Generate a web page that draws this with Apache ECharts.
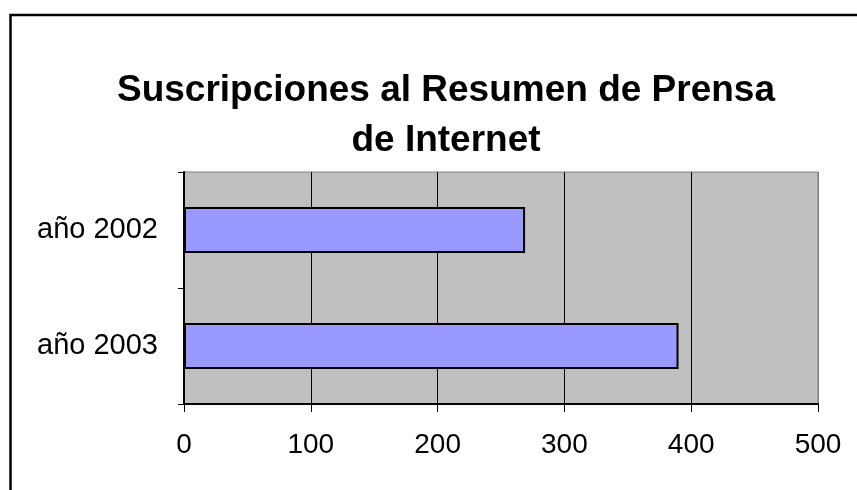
<!DOCTYPE html>
<html>
<head>
<meta charset="utf-8">
<script src="https://cdn.jsdelivr.net/npm/echarts@6/dist/echarts.min.js"></script>
<style>
  html, body { margin: 0; padding: 0; background: #fff; }
  #chart { width: 857px; height: 490px; }
</style>
</head>
<body>
<div id="chart"></div>
<script>
// bottom category first, ECharts draws it from the bottom up
var categories = ['año 2003', 'año 2002'];
var suscripciones = [390, 269];
var xTicks = [0, 100, 200, 300, 400, 500];

var myChart = echarts.init(document.getElementById('chart'));

var option = {
  backgroundColor: '#fff',
  animation: false,
  title: {
    text: 'Suscripciones al Resumen de Prensa\nde Internet',
    left: 441,
    top: 61,
    textAlign: 'center',
    textStyle: {
      fontFamily: 'Liberation Sans, Arial, sans-serif',
      fontWeight: 'bold',
      fontSize: 37,
      lineHeight: 50,
      color: '#000'
    }
  },
  graphic: [{
    type: 'rect',
    shape: { x: 10.5, y: 15, width: 900, height: 520 },
    style: { fill: 'none', stroke: '#000', lineWidth: 2.5 },
    silent: true
  }],
  grid: {
    left: 184,
    right: 39,
    top: 172,
    bottom: 86,
    show: true,
    backgroundColor: '#C0C0C0',
    borderColor: '#808080',
    borderWidth: 1,
    outerBoundsMode: 'none'
  },
  xAxis: {
    type: 'value',
    min: xTicks[0],
    max: xTicks[xTicks.length - 1],
    interval: 100,
    axisLine: { show: true, onZero: false, lineStyle: { color: '#000', width: 2 } },
    axisTick: { show: true, length: 8, lineStyle: { color: '#000', width: 1 } },
    axisLabel: {
      margin: 27,
      fontFamily: 'Liberation Sans, Arial, sans-serif',
      fontSize: 28,
      color: '#000',
      formatter: function (v) { return xTicks.indexOf(v) >= 0 ? String(v) : ''; }
    },
    splitLine: {
      show: true,
      lineStyle: { color: ['#000', '#000', '#000', '#000', '#000', '#808080'], width: 1 }
    }
  },
  yAxis: {
    type: 'category',
    data: categories,
    axisLine: { show: true, lineStyle: { color: '#000', width: 2 } },
    axisTick: { show: true, length: 6, lineStyle: { color: '#000', width: 1 } },
    axisLabel: {
      margin: 26,
      fontFamily: 'Liberation Sans, Arial, sans-serif',
      fontSize: 29,
      color: '#000'
    },
    splitLine: { show: false }
  },
  series: [{
    name: 'Suscripciones',
    type: 'bar',
    data: suscripciones,
    barWidth: 46,
    itemStyle: {
      color: '#9999FF',
      borderColor: '#000',
      borderWidth: 2
    }
  }]
};

myChart.setOption(option);
</script>
</body>
</html>
